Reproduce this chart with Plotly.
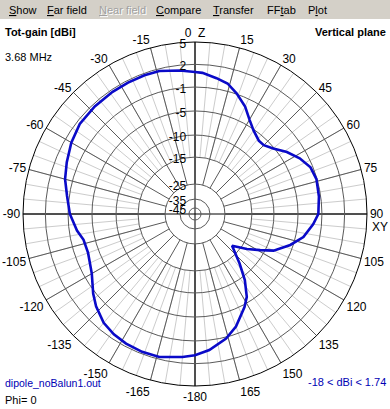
import numpy as np
import plotly.graph_objects as go

# ---- data: vertical-plane pattern (theta clockwise from Z, degrees) ----
theta_deg = [0, 3, 9, 14, 19, 25, 30, 35, 41, 45, 50, 56, 62, 68, 74, 82, 90, 95, 102,
             108, 115, 119, 124, 130.6, 138, 143, 148, 152, 160, 166, 174, 180,
             -175, -166, -159, -152, -146, -140, -133, -128, -120, -110, -103, -98,
             -90, -82, -75, -68, -60, -52, -43, -34, -27, -20, -14, -6, 0]
gain_dbi = [1.0, 0.9, 0.4, 0.0, -0.9, -2.4, -4.0, -5.2, -6.2, -6.2, -5.2, -3.7, -2.4,
            -1.4, -1.1, -1.3, -1.6, -2.4, -3.7, -5.6, -8.4, -11.0, -13.7, -18.0, -12.8,
            -9.2, -6.1, -4.6, -2.2, -0.8, 0.3, 0.9, 1.2, 1.71, 1.73, 1.63, 1.4, 1.0,
            0.1, -0.7, -2.3, -3.2, -3.1, -2.3, -1.3, -0.7, 0.0, 0.5, 1.1, 1.55, 1.65,
            1.7, 1.72, 1.74, 1.7, 1.3, 1.0]

# radial (dB) rings and angular labels
ring_db = [5, 2, -1, -5, -10, -15, -25, -35, -45]
ring_labels = ["5", "2", "-1", "-5", "-10", "-15", "-25", "-35", "-45"]
ang_vals = list(range(0, 360, 15))
ang_labels = ["0  Z", "15", "30", "45", "60", "75", "90", "105", "120", "135", "150", "165",
              "-180", "-165", "-150", "-135", "-120", "-105", "-90", "-75", "-60", "-45", "-30", "-15"]

# 4nec2-like compressed radial scale (fraction of outer radius for each ring)
ring_frac = [1.0, 0.870, 0.738, 0.599, 0.459, 0.331, 0.174, 0.087, 0.035]


def to_r(db):
    return np.interp(db, ring_db[::-1], ring_frac[::-1])


W, H = 390, 409
CX, CY, R = 195, 214, 172
FONT = "Liberation Sans"
dom_x = [(CX - R) / W, (CX + R) / W]
dom_y = [1 - (CY + R) / H, 1 - (CY - R) / H]


def px(x):
    return x / W


def py(y):
    return 1 - y / H


fig = go.Figure()

# empty traces to make the grid layers exist
for sp in ["polar", "polar2", "polar3"]:
    fig.add_trace(go.Scatterpolar(r=[], theta=[], subplot=sp, showlegend=False,
                                  hoverinfo="skip", mode="lines"))

fig.add_trace(go.Scatterpolar(
    r=to_r(np.array(gain_dbi)), theta=theta_deg, subplot="polar4", mode="lines",
    line=dict(color="#0a0ac8", width=2.6), showlegend=False, hoverinfo="skip"))

hidden_radial = dict(visible=False, range=[0, 1])


def base_polar(**kw):
    d = dict(domain=dict(x=dom_x, y=dom_y), bgcolor="rgba(0,0,0,0)",
             radialaxis=hidden_radial)
    d.update(kw)
    return d


fig.update_layout(
    width=W, height=H, margin=dict(l=0, r=0, t=0, b=0),
    paper_bgcolor="white", plot_bgcolor="white", showlegend=False,
    font=dict(family=FONT, size=12, color="black"),
    polar=base_polar(
        bgcolor="white", hole=to_r(-15),
        angularaxis=dict(rotation=90, direction="clockwise", tickvals=list(range(0, 360, 5)),
                         showgrid=True, gridcolor="#cccccc", gridwidth=1,
                         showticklabels=False, ticks="", showline=False)),
    polar2=base_polar(
        hole=to_r(-25),
        angularaxis=dict(rotation=90, direction="clockwise", tickvals=ang_vals,
                         showgrid=True, gridcolor="#5a5a5a", gridwidth=1,
                         showticklabels=False, ticks="", showline=False)),
    polar3=base_polar(
        angularaxis=dict(rotation=90, direction="clockwise", tickvals=[0, 90, 180, 270],
                         showgrid=True, gridcolor="black", gridwidth=1,
                         showticklabels=False, ticks="", showline=False)),
    polar4=base_polar(
        radialaxis=dict(visible=True, range=[0, 1], angle=90, side="counterclockwise",
                        tickvals=list(to_r(np.array(ring_db))), ticktext=ring_labels,
                        showgrid=True, gridcolor="#5a5a5a", gridwidth=1,
                        showline=False, ticks="", tickfont=dict(size=12, color="black")),
        angularaxis=dict(rotation=90, direction="clockwise", tickvals=ang_vals,
                         ticktext=ang_labels, showgrid=False, ticks="",
                         showline=True, linecolor="black", linewidth=1,
                         tickfont=dict(size=12, color="black"))),
)

# menu bar
fig.add_shape(type="rect", xref="paper", yref="paper", x0=0, x1=1, y0=py(19), y1=1,
              fillcolor="#d4d0c8", line=dict(width=0), layer="below")

menu = [("<u>S</u>how", 7), ("<u>F</u>ar field", 45), ("<u>C</u>ompare", 154),
        ("<u>T</u>ransfer", 211), ("FF<u>t</u>ab", 265), ("P<u>l</u>ot", 306)]
ann = []
for txt, x in menu:
    ann.append(dict(text=txt, x=px(x), y=py(10), xanchor="left", yanchor="middle",
                    font=dict(size=11, color="black")))
ann.append(dict(text="<u>N</u>ear field", x=px(98), y=py(11), xanchor="left", yanchor="middle",
                font=dict(size=11, color="white")))
ann.append(dict(text="<u>N</u>ear field", x=px(97), y=py(10), xanchor="left", yanchor="middle",
                font=dict(size=11, color="#a0a0a0")))

ann += [
    dict(text="<b>Tot-gain [dBi]</b>", x=px(3), y=py(32), xanchor="left", yanchor="middle",
         font=dict(size=11, color="black")),
    dict(text="<b>Vertical plane</b>", x=px(388), y=py(32), xanchor="right", yanchor="middle",
         font=dict(size=11, color="black")),
    dict(text="3.68 MHz", x=px(3), y=py(57), xanchor="left", yanchor="middle",
         font=dict(size=11, color="black")),
    dict(text="dipole_noBalun1.out", x=px(3), y=py(383), xanchor="left", yanchor="middle",
         font=dict(size=10.5, color="#0000b4")),
    dict(text="Phi= 0", x=px(3), y=py(400), xanchor="left", yanchor="middle",
         font=dict(size=11, color="black")),
    dict(text="-18 < dBi < 1.74", x=px(388), y=py(382), xanchor="right", yanchor="middle",
         font=dict(size=11, color="#0000b4")),
    dict(text="XY", x=px(370), y=py(227), xanchor="left", yanchor="middle",
         font=dict(size=12, color="black")),
]
for a in ann:
    a.update(xref="paper", yref="paper", showarrow=False)
fig.update_layout(annotations=ann)

fig.write_html("out.html", config={"displayModeBar": False},
               post_script="document.body.style.margin='0px';"
               "document.body.style.overflow='hidden';")
